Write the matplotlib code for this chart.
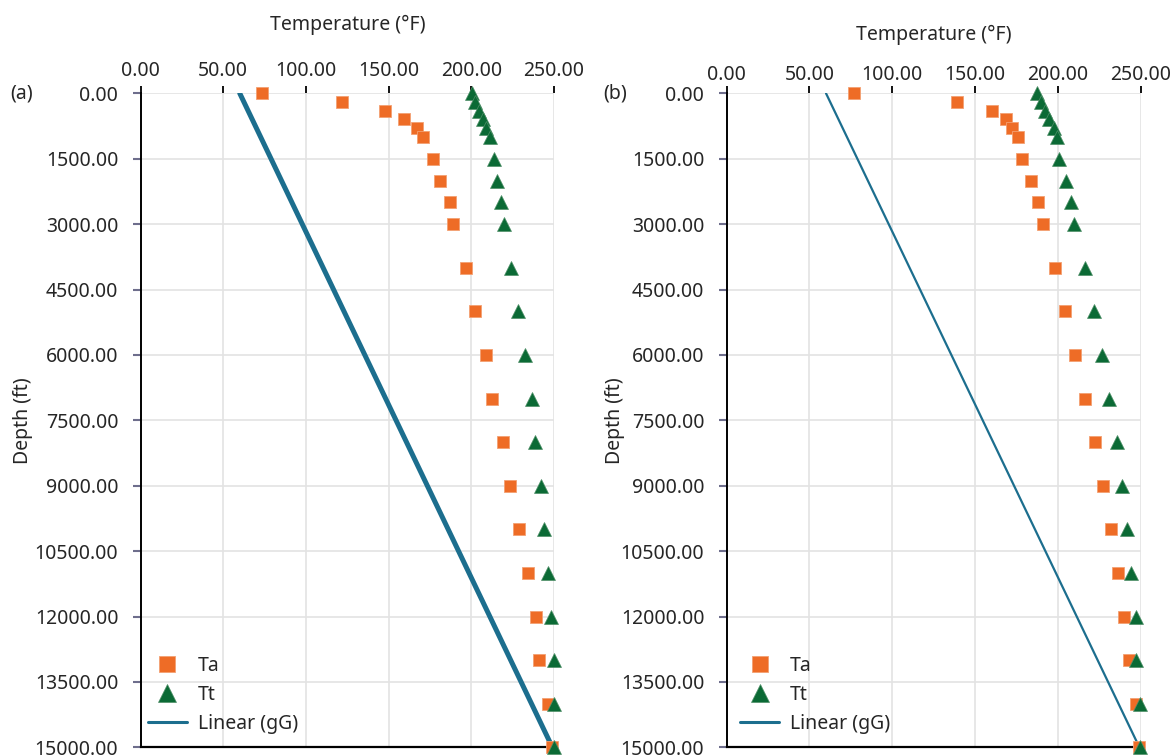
import matplotlib
matplotlib.use('Agg')
import matplotlib.pyplot as plt
from matplotlib.ticker import MultipleLocator, FormatStrFormatter

# depth of each reading (ft), shared by both panels
depth = [0, 200, 400, 600, 800, 1000, 1500, 2000, 2500, 3000, 4000, 5000,
         6000, 7000, 8000, 9000, 10000, 11000, 12000, 13000, 14000, 15000]

# panel (a)
ta_a = [73.2, 121.8, 147.8, 159.3, 166.9, 170.5, 176.9, 181.0, 187.0, 189.2, 196.7,
        202.1, 208.6, 212.4, 219.2, 223.5, 228.9, 234.1, 239.0, 240.8, 246.4, 249.0]
tt_a = [200.3, 202.5, 204.7, 206.8, 208.8, 211.0, 213.6, 215.4, 218.0, 219.8, 223.7,
        228.3, 232.3, 236.4, 238.4, 242.4, 244.0, 246.4, 247.9, 249.8, 249.7, 249.7]

# panel (b)
ta_b = [76.6, 138.7, 160.1, 168.8, 172.0, 175.6, 178.4, 183.4, 187.7, 190.8, 197.9,
        204.3, 210.1, 216.4, 222.2, 227.2, 232.0, 236.0, 240.0, 243.0, 247.1, 248.7]
tt_b = [187.2, 189.5, 192.3, 194.7, 197.3, 199.3, 200.5, 204.7, 208.0, 209.8, 216.1,
        221.6, 226.4, 230.6, 235.4, 238.7, 241.7, 243.7, 247.1, 247.1, 249.5, 249.1]

# linear geothermal gradient trend
gg_depth = [0, 15000]
gg_temp = [60, 249]

ORANGE = '#ee6c26'
GREEN = '#0b6a35'
BLUE = '#1c6e8e'
TEXT = '#262626'

plt.rcParams['font.family'] = ['Noto Sans', 'DejaVu Sans']
plt.rcParams['font.size'] = 14
plt.rcParams['text.color'] = TEXT
plt.rcParams['axes.labelcolor'] = TEXT
plt.rcParams['xtick.color'] = 'black'
plt.rcParams['xtick.labelcolor'] = TEXT
plt.rcParams['ytick.labelcolor'] = TEXT


def draw_panel(ax, ta, tt, line_w, xtick_pad, xlabel_y, ylabel_x, legend_xy):
    ln, = ax.plot(gg_temp, gg_depth, color=BLUE, lw=line_w, solid_capstyle='round',
                  label='Linear (gG)', zorder=3)
    sq, = ax.plot(ta, depth, 's', ms=8, color=ORANGE, mec='#f3a072', mew=0.6,
                  label='Ta', clip_on=False, zorder=4)
    tr, = ax.plot(tt, depth, '^', ms=9.5, color=GREEN, mec='#4f8f68', mew=0.5,
                  label='Tt', clip_on=False, zorder=5)

    ax.set_xlim(0, 250)
    ax.set_ylim(15000, 0)
    ax.xaxis.set_major_locator(MultipleLocator(50))
    ax.yaxis.set_major_locator(MultipleLocator(1500))
    ax.xaxis.set_major_formatter(FormatStrFormatter('%.2f'))
    ax.yaxis.set_major_formatter(FormatStrFormatter('%.2f'))

    ax.xaxis.tick_top()
    ax.xaxis.set_label_position('top')
    ax.set_xlabel('Temperature (°F)')
    ax.xaxis.set_label_coords(0.5, xlabel_y)
    ax.xaxis.label.set_va('center')
    ax.set_ylabel('Depth (ft)')
    ax.yaxis.set_label_coords(ylabel_x, 0.5)
    ax.yaxis.label.set_va('center')

    ax.tick_params(axis='x', direction='out', length=5, width=1.3, pad=xtick_pad,
                   labelsize=14)
    ax.tick_params(axis='y', direction='out', length=6, width=1.5, color='#6e6e8c',
                   pad=10, labelsize=14)

    ax.grid(True, color='#e3e3e3', lw=1.2)
    ax.set_axisbelow(True)
    ax.spines['top'].set_visible(False)
    ax.spines['right'].set_visible(False)
    ax.spines['left'].set_color('black')
    ax.spines['left'].set_linewidth(1.4)
    ax.spines['bottom'].set_color('black')
    ax.spines['bottom'].set_linewidth(1.6)

    leg = ax.legend(handles=[sq, tr, ln], loc='lower left', bbox_to_anchor=legend_xy,
                    frameon=False, fontsize=14, markerscale=1.4, borderpad=0,
                    borderaxespad=0, handlelength=2.0, handletextpad=0.55,
                    labelspacing=0.45)
    leg.get_lines()[2].set_linewidth(2.2)


fig = plt.figure(figsize=(11.72, 7.55), dpi=100)
ax_a = fig.add_axes([0.1199, 0.0102, 0.3528, 0.8662])
ax_b = fig.add_axes([0.6199, 0.0102, 0.3537, 0.8662])

draw_panel(ax_a, ta_a, tt_a, 3.6, 4, 1.105, -0.285, (0.018, 0.021))
draw_panel(ax_b, ta_b, tt_b, 1.6, 1, 1.090, -0.269, (0.033, 0.021))

fig.text(10 / 1172, 1 - 93 / 755, '(a)', fontsize=14, va='center', ha='left')
fig.text(603 / 1172, 1 - 93 / 755, '(b)', fontsize=14, va='center', ha='left')

fig.savefig('out.png', dpi=100)
